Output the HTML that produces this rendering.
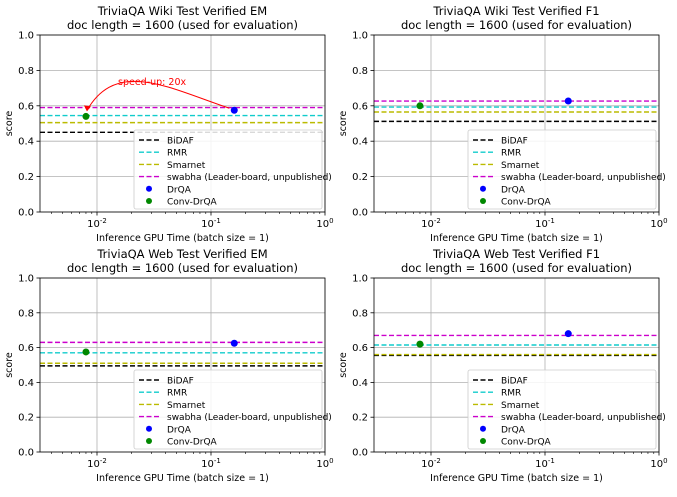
<!DOCTYPE html>
<html><head><meta charset="utf-8"><style>
body{margin:0;background:#fff;font-family:"Liberation Sans","DejaVu Sans",sans-serif}
svg text{font-family:"DejaVu Sans","Liberation Sans",sans-serif}
</style></head><body>
<svg id="c" width="677" height="492" viewBox="0 0 677 492" xmlns="http://www.w3.org/2000/svg"></svg>
<script>
const panelTitles = ["TriviaQA Wiki Test Verified EM","TriviaQA Wiki Test Verified F1","TriviaQA Web Test Verified EM","TriviaQA Web Test Verified F1"];
const seriesNames = ["BiDAF","RMR","Smarnet","swabha (Leader-board, unpublished)"];
const seriesColors = ["#000","#1cc","#bb0","#c0c"];
const bidafVals = [0.45,0.512,0.495,0.555];
const rmrVals = [0.545,0.593,0.57,0.615];
const smarnetVals = [0.505,0.565,0.51,0.56];
const swabhaVals = [0.59,0.627,0.63,0.67];
const drqaTime = 0.16;
const drqaVals = [0.575,0.627,0.625,0.68];
const convTime = 0.008;
const convVals = [0.54,0.60,0.575,0.62];
const yTicks = [0,0.2,0.4,0.6,0.8,1.0];
const xDecades = [-2,-1,0];

const NS="http://www.w3.org/2000/svg";
const svg=document.getElementById('c');
function mk(tag,attrs,parent){const e=document.createElementNS(NS,tag);for(const k in attrs)e.setAttribute(k,attrs[k]);(parent||svg).appendChild(e);return e;}
const panels=[{l:40,r:325,t:35,b:212},{l:374,r:659,t:35,b:212},{l:40,r:325,t:278,b:452},{l:374,r:659,t:278,b:452}];
const lineSets=[bidafVals,rmrVals,smarnetVals,swabhaVals];
panels.forEach((p,i)=>{
  const g=mk('g',{});
  
  
  const xs=v=>p.l+(Math.log10(v)+2.5)/2.5*(p.r-p.l);
  const ys=v=>p.b-v*(p.b-p.t);
  yTicks.forEach(t=>{
    const ln=mk('line',{x1:p.l,x2:p.r,y1:ys(t),y2:ys(t),stroke:'#b0b0b0','stroke-width':0.8},g);
    
    mk('line',{x1:p.l-3.5,x2:p.l,y1:ys(t),y2:ys(t),stroke:'#000','stroke-width':0.8},g);
    const tx=mk('text',{x:p.l-6,y:ys(t)+3.5,'font-size':10,'text-anchor':'end',fill:'#000'},g);
    tx.textContent=t.toFixed(1);
    
  });
  xDecades.forEach(d=>{
    const x=xs(Math.pow(10,d));
    mk('line',{x1:x,x2:x,y1:p.t,y2:p.b,stroke:'#b0b0b0','stroke-width':0.8},g);
    mk('line',{x1:x,x2:x,y1:p.b,y2:p.b+3.5,stroke:'#000','stroke-width':0.8},g);
    const tx=mk('text',{x:x,y:p.b+15,'font-size':10,'text-anchor':'middle',fill:'#000'},g);
    tx.innerHTML='10<tspan dy="-4" font-size="7">'+d+'</tspan>';
    
  });
  for(let d=-3;d<0;d++)for(let k=2;k<10;k++){const v=k*Math.pow(10,d);if(Math.log10(v)<-2.5)continue;const x=xs(v);mk('line',{x1:x,x2:x,y1:p.b,y2:p.b+2,stroke:'#000','stroke-width':0.6},g);}
  lineSets.forEach((arr,s)=>{
    const ln=mk('line',{x1:p.l,x2:p.r,y1:ys(arr[i]),y2:ys(arr[i]),stroke:seriesColors[s],'stroke-width':1.4,'stroke-dasharray':'5,2.5'},g);
    
    
  });
  const c1=mk('circle',{cx:xs(drqaTime),cy:ys(drqaVals[i]),r:3.5,fill:'#00f'},g);
  
  const c2=mk('circle',{cx:xs(convTime),cy:ys(convVals[i]),r:3.5,fill:'#080'},g);
  
  if(i===0){
    const x1=xs(drqaTime)-5,y1=ys(drqaVals[i])-2,x2=xs(convTime)+1,y2=ys(convVals[i])-6;
    const a=mk('path',{d:`M${x1},${y1} C${x1-60},${y1-20} ${x2+30},${y1-50} ${x2},${y2}`,fill:'none',stroke:'red','stroke-width':1},g);
    
    mk('path',{d:`M${x2-3},${y2-5} L${x2},${y2+1} L${x2+4},${y2-4} Z`,fill:'red'},g);
    const at=mk('text',{x:118,y:85,'font-size':9.5,fill:'red'},g);
    at.textContent='speed-up: 20x';
    
  }
  mk('rect',{x:p.l,y:p.t,width:p.r-p.l,height:p.b-p.t,fill:'none',stroke:'#000','stroke-width':0.8},g);
  const t1=mk('text',{x:(p.l+p.r)/2,y:p.t-20,'font-size':11.5,'text-anchor':'middle'},g);
  t1.textContent=panelTitles[i];
  const t2=mk('text',{x:(p.l+p.r)/2,y:p.t-6,'font-size':11.5,'text-anchor':'middle'},g);
  t2.textContent='doc length = 1600 (used for evaluation)';
  const xl=mk('text',{x:(p.l+p.r)/2,y:p.b+29,'font-size':9.5,'text-anchor':'middle'},g);
  xl.textContent='Inference GPU Time (batch size = 1)';
  const yl=mk('text',{x:0,y:0,'font-size':9.5,'text-anchor':'middle',transform:`translate(${p.l-28},${(p.t+p.b)/2}) rotate(-90)`},g);
  yl.textContent='score';
  const lx=p.l+94,ly=p.b-82;
  const lg=mk('g',{},g);
  
  mk('rect',{x:lx,y:ly,width:p.r-lx-3,height:79,rx:2,fill:'rgba(255,255,255,0.85)',stroke:'#ccc','stroke-width':0.8},lg);
  const labels=seriesNames.concat(['DrQA','Conv-DrQA']);
  labels.forEach((n,k)=>{
    const yy=ly+10+k*12.2;
    if(k<4) mk('line',{x1:lx+5,x2:lx+25,y1:yy,y2:yy,stroke:seriesColors[k],'stroke-width':1.4,'stroke-dasharray':'5,2.5'},lg);
    else mk('circle',{cx:lx+15,cy:yy,r:3,fill:k===4?'#00f':'#080'},lg);
    const tx=mk('text',{x:lx+33,y:yy+3.5,'font-size':9},lg);
    tx.textContent=n;
  });
});
</script>
</body></html>
